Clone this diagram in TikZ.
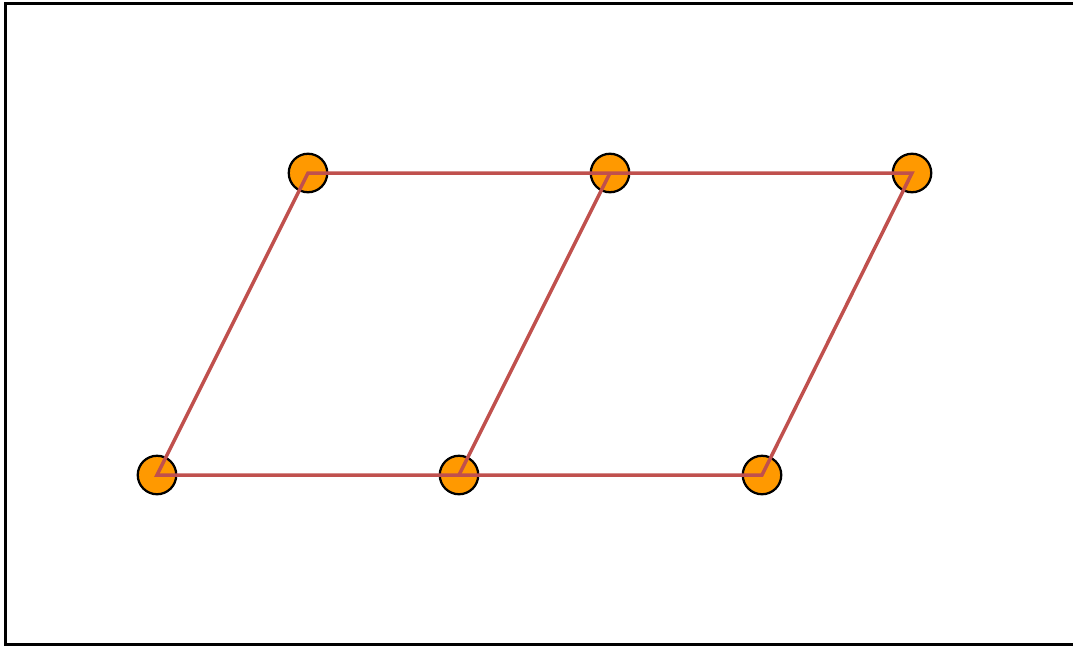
\documentclass[tikz,border=0pt]{standalone}
\usepackage{tikz}
\usepackage{xcolor}
\definecolor{siteorange}{RGB}{255,153,0}
\definecolor{bondred}{RGB}{192,80,77}

\begin{document}
\begin{tikzpicture}[
  site/.style={circle, draw=black, line width=0.045cm, fill=siteorange, minimum size=0.77cm, inner sep=0pt},
  bond/.style={draw=bondred, line width=0.07cm, line join=miter}
]
  \useasboundingbox (0,0) rectangle (21.46,12.92);
  % Frame
  \draw[line width=0.07cm] (0.11,0.03) rectangle (21.56,12.85);

  % Lattice sites
  \foreach \name/\x/\y in {a/3.14/3.42, b/9.18/3.42, c/15.24/3.42,
                           d/6.16/9.46, e/12.20/9.46, f/18.24/9.46} {
    \node[site] (\name) at (\x,\y) {};
  }

  % Bonds
  \draw[bond] (c.center) -- (b.center) -- (a.center) -- (d.center) -- (e.center) -- (f.center) -- cycle;
  \draw[bond] (b.center) -- (e.center);
\end{tikzpicture}
\end{document}
